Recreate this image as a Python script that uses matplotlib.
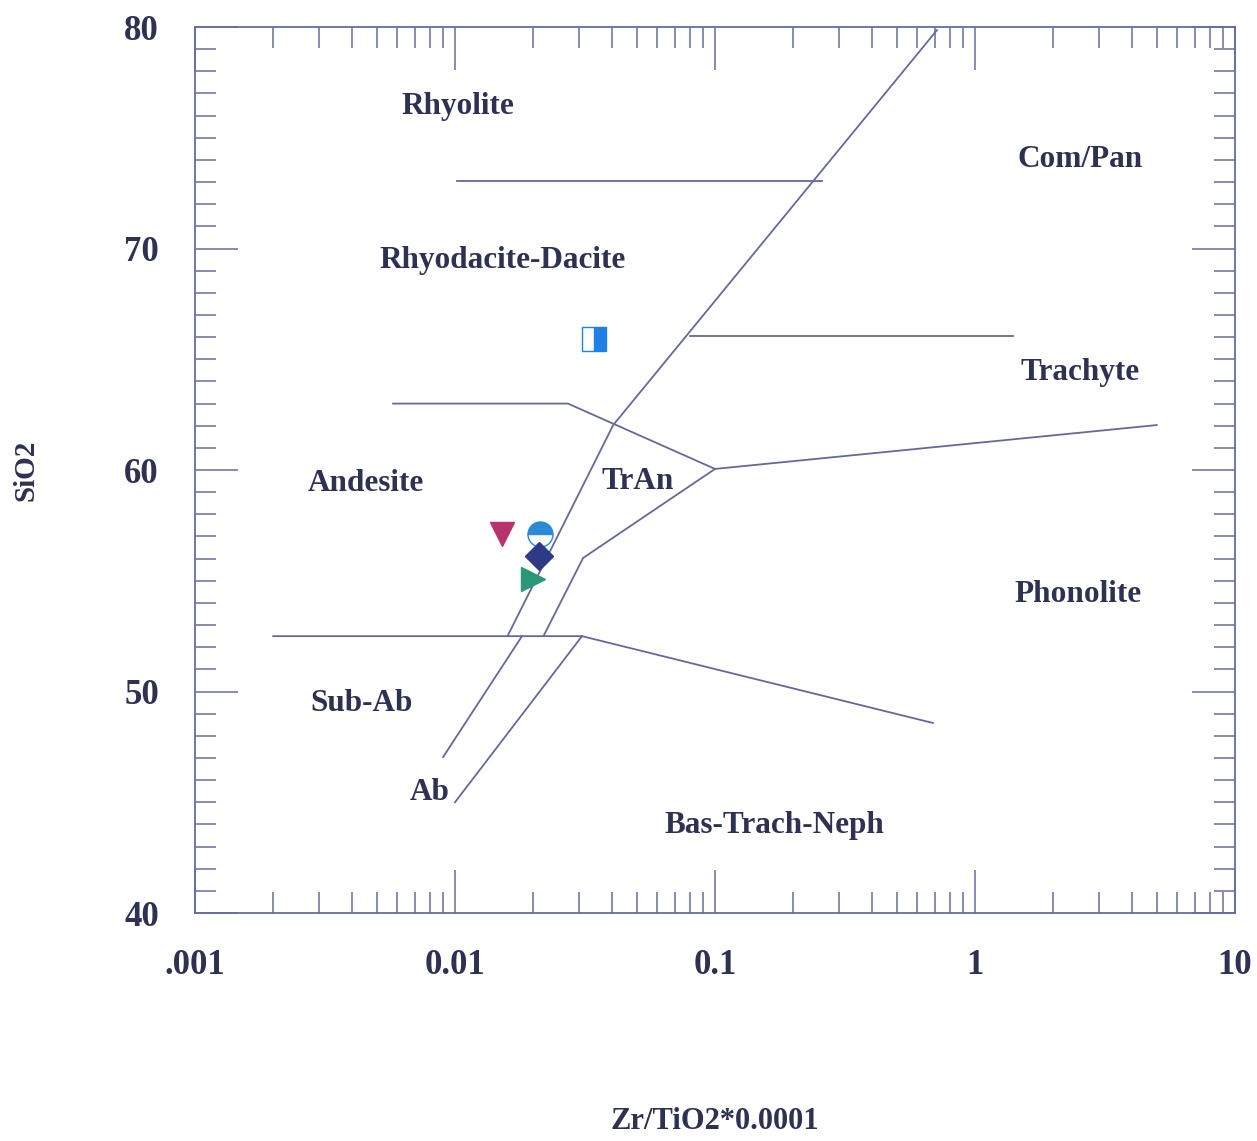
import matplotlib
matplotlib.use("Agg")
import matplotlib.pyplot as plt
from matplotlib.ticker import FixedLocator, FixedFormatter, MultipleLocator

# Sample compositions: Zr/TiO2*0.0001 vs SiO2
sample_names = ["S1", "S2", "S3", "S4", "S5"]
zr_tio2 = [0.0152, 0.0212, 0.0210, 0.0200, 0.0343]
sio2 = [57.1, 57.1, 56.1, 55.1, 65.9]
markers = ["v", "o", "D", ">", "s"]
marker_sizes = [17, 18, 14, 17, 17]
face_colors = ["#b8336e", "#2a8ad6", "#2e3a86", "#2a9878", "#1f80e6"]
fill_styles = ["full", "top", "full", "full", "right"]

# Field boundaries (Winchester & Floyd, 1977)
boundaries = [
    ([0.0102, 0.258], [73.05, 73.05]),
    ([0.714, 0.0406, 0.0160], [79.86, 62.03, 52.55]),
    ([0.0181, 0.0090], [52.5, 47.04]),
    ([0.0308, 0.0100], [52.5, 45.0]),
    ([0.0220, 0.0311, 0.100], [52.55, 56.03, 60.05]),
    ([0.00578, 0.0272, 0.100, 5.0], [63.0, 63.0, 60.05, 62.03]),
    ([0.080, 1.40], [66.05, 66.05]),
    ([0.0020, 0.0308, 0.689], [52.5, 52.5, 48.58]),
]

field_names = ["Rhyolite", "Com/Pan", "Rhyodacite-Dacite", "Trachyte", "Andesite",
               "TrAn", "Phonolite", "Sub-Ab", "Ab", "Bas-Trach-Neph"]
field_x = [0.0103, 2.53, 0.0153, 2.53, 0.00455, 0.0506, 2.49, 0.00438, 0.00802, 0.1687]
field_y = [76.43, 74.0, 69.44, 64.42, 59.41, 59.46, 54.4, 49.44, 45.42, 43.93]

x_ticks = [0.001, 0.01, 0.1, 1, 10]
x_tick_labels = [".001", "0.01", "0.1", "1", "10"]
y_ticks = [40, 50, 60, 70, 80]

line_color = "#646a98"
frame_color = "#666ca0"
text_color = "#2d3152"
serif = ["Liberation Serif", "DejaVu Serif"]

fig = plt.figure(figsize=(12.57, 11.41), dpi=100)
ax = fig.add_axes([0.1551, 0.1998, 0.8274, 0.7765])
ax.set_xscale("log")
ax.set_xlim(0.001, 10)
ax.set_ylim(40, 80)

for xs, ys in boundaries:
    ax.plot(xs, ys, color=line_color, lw=1.3, solid_joinstyle="miter")

for x, y, m, ms, c, fs in zip(zr_tio2, sio2, markers, marker_sizes,
                              face_colors, fill_styles):
    ax.plot([x], [y], marker=m, markersize=ms,
            color=c, markerfacecolor=c, markerfacecoloralt="white",
            markeredgecolor=c, markeredgewidth=1.0, fillstyle=fs,
            linestyle="none", zorder=5)

for name, x, y in zip(field_names, field_x, field_y):
    ax.text(x, y, name, ha="center", va="center", fontsize=22.5,
            fontweight="bold", family=serif, color=text_color)

# Axes frame and ticks on all four sides
for sp in ax.spines.values():
    sp.set_color(frame_color)
    sp.set_linewidth(1.3)

ax.xaxis.set_major_locator(FixedLocator(x_ticks))
ax.xaxis.set_major_formatter(FixedFormatter(x_tick_labels))
ax.yaxis.set_major_locator(FixedLocator(y_ticks))
ax.yaxis.set_minor_locator(MultipleLocator(1))

ax.tick_params(which="both", direction="in", top=True, right=True,
               color=frame_color, width=1.1)
ax.tick_params(which="major", length=31, pad=26)
ax.tick_params(which="minor", length=15)
for lab in ax.get_xticklabels() + ax.get_yticklabels():
    lab.set_fontfamily(serif)
    lab.set_fontweight("bold")
    lab.set_fontsize(25)
    lab.set_color(text_color)

ax.set_xlabel("Zr/TiO2*0.0001", fontsize=22, fontweight="bold",
              family=serif, color=text_color)
ax.set_ylabel("SiO2", fontsize=21, fontweight="bold",
              family=serif, color=text_color)
ax.xaxis.set_label_coords(0.5, -0.219)
ax.yaxis.set_label_coords(-0.149, 0.5)

fig.savefig("out.png", dpi=100, facecolor="white")
